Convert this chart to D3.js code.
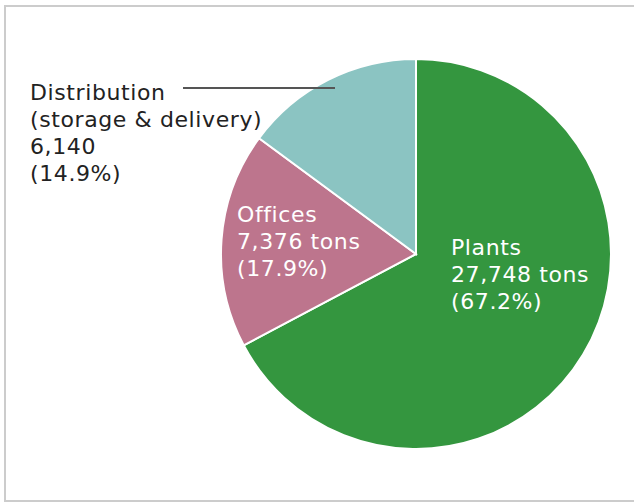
<!DOCTYPE html>
<html>
<head>
<meta charset="utf-8">
<script src="https://cdn.jsdelivr.net/npm/d3@7"></script>
<style>
  body { margin: 0; background: #fff; }
  svg { display: block; }
</style>
</head>
<body>
<svg id="chart" width="634" height="503"></svg>
<script>
const categories = ["Plants", "Offices", "Distribution"];
const values = [27748, 7376, 6140];
const percents = ["67.2%", "17.9%", "14.9%"];
const colors = ["#34963f", "#bd758d", "#8bc4c2"];

const svg = d3.select("#chart");
const font = "'DejaVu Sans', sans-serif";

// frame
svg.append("path")
    .attr("d", "M634,6 H5 V501 H634")
    .attr("fill", "none")
    .attr("stroke", "#cccccc")
    .attr("stroke-width", 2);

const cx = 416, cy = 254, r = 195;

let pie = d3.pie().sort(null).value(d => d);
let arcs = pie(values);
let arc = d3.arc().innerRadius(0).outerRadius(r);

let g = svg.append("g").attr("transform", `translate(${cx},${cy})`);

g.selectAll(".slice")
    .data(arcs)
    .enter()
    .append("path")
    .attr("class", "slice")
    .attr("d", arc)
    .attr("fill", (d, i) => colors[i])
    .attr("stroke", "#ffffff")
    .attr("stroke-width", 2);

const fmt = d3.format(",");

// labels: [lines, x, y of first baseline, colour]
let labels = [
    [[categories[0], fmt(values[0]) + " tons", "(" + percents[0] + ")"], 451, 255, "#ffffff"],
    [[categories[1], fmt(values[1]) + " tons", "(" + percents[1] + ")"], 237, 222, "#ffffff"],
    [["Distribution", "(storage & delivery)", fmt(values[2]), "(" + percents[2] + ")"], 30, 100, "#222222"]
];

labels.forEach(l => {
    let t = svg.append("text")
        .attr("x", l[1])
        .attr("y", l[2])
        .attr("fill", l[3])
        .attr("font-family", font)
        .attr("font-size", 22)
        .attr("letter-spacing", 0.6);
    l[0].forEach((s, i) => {
        t.append("tspan").attr("x", l[1]).attr("dy", i ? 27 : 0).text(s);
    });
});

// leader line for Distribution
svg.append("line")
    .attr("x1", 183).attr("y1", 88)
    .attr("x2", 335).attr("y2", 88)
    .attr("stroke", "#555555")
    .attr("stroke-width", 2);
</script>
</body>
</html>
